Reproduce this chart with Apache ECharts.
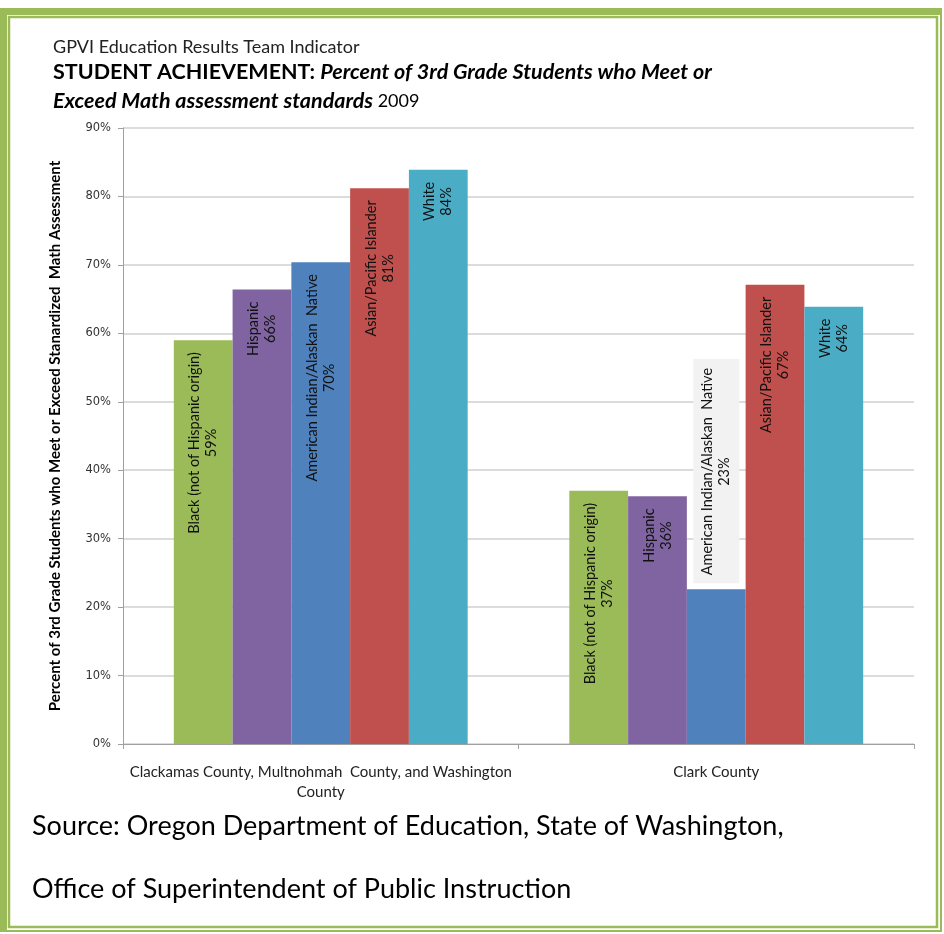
<!DOCTYPE html>
<html>
<head>
<meta charset="utf-8">
<script src="https://cdn.jsdelivr.net/npm/echarts@6/dist/echarts.min.js"></script>
<style>
html,body{margin:0;padding:0;background:#fff;}
#chart{width:944px;height:934px;}
</style>
</head>
<body>
<div id="chart"></div>
<script>
// ---- data ----
const categories = [
  "Clackamas County, Multnohmah  County, and Washington\nCounty",
  "Clark County"
];
const seriesNames = [
  "Black (not of Hispanic origin)",
  "Hispanic",
  "American Indian/Alaskan  Native",
  "Asian/Pacific Islander",
  "White"
];
const blackValues    = [59.0, 37.0];
const hispanicValues = [66.4, 36.2];
const amIndValues    = [70.4, 22.6];
const asianValues    = [81.2, 67.1];
const whiteValues    = [83.9, 63.9];
const yTicks = [0, 10, 20, 30, 40, 50, 60, 70, 80, 90];
const titleLine1 = "GPVI Education Results Team Indicator";
const yAxisTitle = "Percent of 3rd Grade Students who Meet or Exceed Stanardized  Math Assessment";
const sourceLine1 = "Source: Oregon Department of Education, State of Washington,";
const sourceLine2 = "Office of Superintendent of Public Instruction";

const allValues = [blackValues, hispanicValues, amIndValues, asianValues, whiteValues];
const colors = ['#9BBB59', '#8064A2', '#4F81BD', '#C0504D', '#4BACC6'];
const green = '#9BBB59';

const labelFont = 'Lato, "Noto Sans", sans-serif';

function buildSeries(i) {
  return {
    name: seriesNames[i],
    type: 'bar',
    barGap: '0%',
    barCategoryGap: '25.7%',
    itemStyle: { color: colors[i] },
    label: {
      show: true,
      position: 'insideTop',
      rotate: 90,
      align: 'right',
      verticalAlign: 'middle',
      distance: 12,
      formatter: function (p) {
        return '{a|' + p.seriesName + '}\n{a|' + Math.round(p.value) + '%}';
      },
      rich: {
        a: { align: 'center', fontFamily: labelFont, fontSize: 14.5, color: '#111', lineHeight: 17 }
      }
    },
    data: allValues[i].map(function (v) {
      if (v < 30) {
        return {
          value: v,
          label: {
            position: 'top',
            align: 'left',
            verticalAlign: 'middle',
            distance: 6,
            backgroundColor: '#F2F2F2',
            padding: [6, 9, 6, 8]
          }
        };
      }
      return v;
    })
  };
}

const chart = echarts.init(document.getElementById('chart'), null, { renderer: 'canvas' });

const option = {
  animation: false,
  backgroundColor: '#fff',
  grid: { left: 123, right: 30, top: 128, bottom: 190, containLabel: false },
  xAxis: {
    type: 'category',
    data: categories,
    axisLine: { lineStyle: { color: '#A0A0A0', width: 1 } },
    axisTick: { show: true, lineStyle: { color: '#A0A0A0' }, length: 5 },
    axisLabel: {
      interval: 0,
      fontFamily: labelFont, fontSize: 15, color: '#222', margin: 18, lineHeight: 20
    }
  },
  yAxis: {
    type: 'value',
    min: yTicks[0],
    max: yTicks[yTicks.length - 1],
    interval: 10,
    name: yAxisTitle,
    nameLocation: 'middle',
    nameGap: 60,
    nameRotate: 90,
    nameTextStyle: { fontFamily: labelFont, fontWeight: 'bold', fontSize: 15, color: '#000' },
    axisLine: { show: true, lineStyle: { color: '#A0A0A0', width: 1 } },
    axisTick: { show: true, lineStyle: { color: '#A0A0A0' }, length: 5 },
    axisLabel: {
      formatter: '{value}%', fontFamily: '"DejaVu Sans", sans-serif', fontSize: 11.5, color: '#333', margin: 12
    },
    splitLine: { lineStyle: { color: '#D0D0D0', width: 1.5 } }
  },
  series: seriesNames.map(function (n, i) { return buildSeries(i); }),
  graphic: [
    // outer thick frame
    { type: 'rect', shape: { x: 0, y: 8, width: 7, height: 924 }, style: { fill: green }, silent: true },
    { type: 'rect', shape: { x: 0, y: 8, width: 942, height: 7 }, style: { fill: green }, silent: true },
    { type: 'rect', shape: { x: 940, y: 8, width: 2, height: 924 }, style: { fill: green }, silent: true },
    { type: 'rect', shape: { x: 0, y: 930, width: 942, height: 2 }, style: { fill: green }, silent: true },
    // inner thin frame
    { type: 'rect', shape: { x: 9, y: 17, width: 928, height: 910 }, style: { fill: null, stroke: green, lineWidth: 2.5 }, silent: true },
    // titles
    { type: 'text', left: 53, top: 38, style: { text: titleLine1, font: '18px Lato, sans-serif', fill: '#222' } },
    {
      type: 'text', left: 53, top: 61,
      style: {
        text: '{b|STUDENT ACHIEVEMENT: }{bi|Percent of 3rd Grade Students who Meet or}',
        rich: {
          b: { fontFamily: 'Lato', fontWeight: 'bold', fontSize: 21.5, fill: '#000' },
          bi: { fontFamily: 'Lato', fontWeight: 'bold', fontStyle: 'italic', fontSize: 21.5, fill: '#000' }
        }
      }
    },
    {
      type: 'text', left: 53, top: 90,
      style: {
        text: '{bi|Exceed Math assessment standards}{r| 2009}',
        rich: {
          bi: { fontFamily: 'Lato', fontWeight: 'bold', fontStyle: 'italic', fontSize: 21.5, fill: '#000' },
          r: { fontFamily: 'Lato', fontSize: 18, fill: '#000' }
        }
      }
    },
    // source
    { type: 'text', left: 32, top: 813, style: { text: sourceLine1, font: '27px Lato, sans-serif', fill: '#000' } },
    { type: 'text', left: 32, top: 876, style: { text: sourceLine2, font: '27px Lato, sans-serif', fill: '#000' } }
  ]
};
chart.setOption(option);
</script>
</body>
</html>
